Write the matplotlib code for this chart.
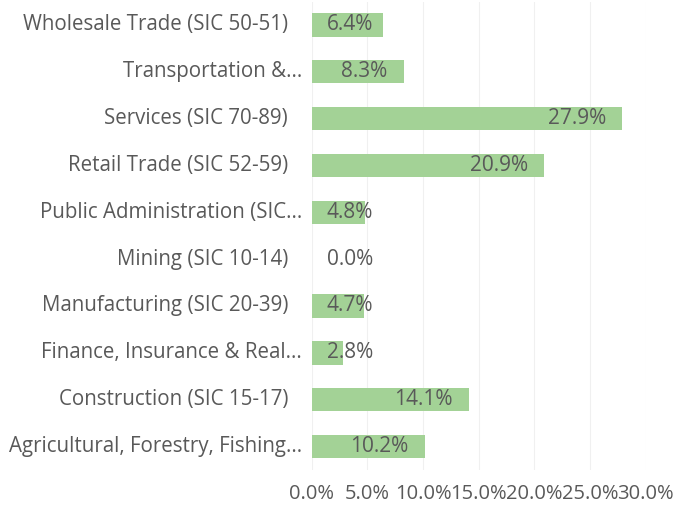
import matplotlib.pyplot as plt
from matplotlib.ticker import PercentFormatter

# categories listed bottom to top, as drawn
categories = [
    'Agricultural, Forestry, Fishing...',
    'Construction (SIC 15-17)',
    'Finance, Insurance & Real...',
    'Manufacturing (SIC 20-39)',
    'Mining (SIC 10-14)',
    'Public Administration (SIC...',
    'Retail Trade (SIC 52-59)',
    'Services (SIC 70-89)',
    'Transportation &...',
    'Wholesale Trade (SIC 50-51)',
]
shares = [10.2, 14.1, 2.8, 4.7, 0.0, 4.8, 20.9, 27.9, 8.3, 6.4]
xticks = [0, 5, 10, 15, 20, 25, 30]

plt.rcParams['font.family'] = ['Open Sans', 'DejaVu Sans']
text_col = '#595959'

fig = plt.figure(figsize=(6.82, 5.08), dpi=100)
ax = fig.add_axes([0.457, 0.075, 0.49, 0.922])

y = range(len(categories))
ax.barh(y, shares, height=0.5, color='#a3d296', linewidth=0, zorder=2)

ax.set_xlim(0, 30)
ax.set_ylim(-0.5, len(categories) - 0.5)
ax.set_xticks(xticks)
ax.xaxis.set_major_formatter(PercentFormatter(decimals=1))
ax.tick_params(axis='x', length=0, pad=10, labelsize=14.5, labelcolor=text_col)
ax.set_yticks([])
ax.grid(axis='x', color='#f0f0f0', linewidth=0.8, zorder=0)
for s in ax.spines.values():
    s.set_visible(False)

# category labels (truncated ones sit a bit closer to the axis)
for i, lab in enumerate(categories):
    off = -7 if lab.endswith('...') else -17
    ax.annotate(lab, xy=(0, i), xycoords=('axes fraction', 'data'),
                xytext=(off, 0), textcoords='offset points',
                ha='right', va='center', fontsize=14.8, color=text_col)

# data labels: inside end, or pushed off the base for short bars
for i, v in enumerate(shares):
    txt = f'{v:.1f}%'
    if v >= 7:
        ax.annotate(txt, xy=(v, i), xytext=(-12, 0), textcoords='offset points',
                    ha='right', va='center', fontsize=15, color=text_col)
    else:
        ax.annotate(txt, xy=(0, i), xytext=(11, 0), textcoords='offset points',
                    ha='left', va='center', fontsize=15, color=text_col)

plt.savefig('out.png', dpi=100, facecolor='white')
